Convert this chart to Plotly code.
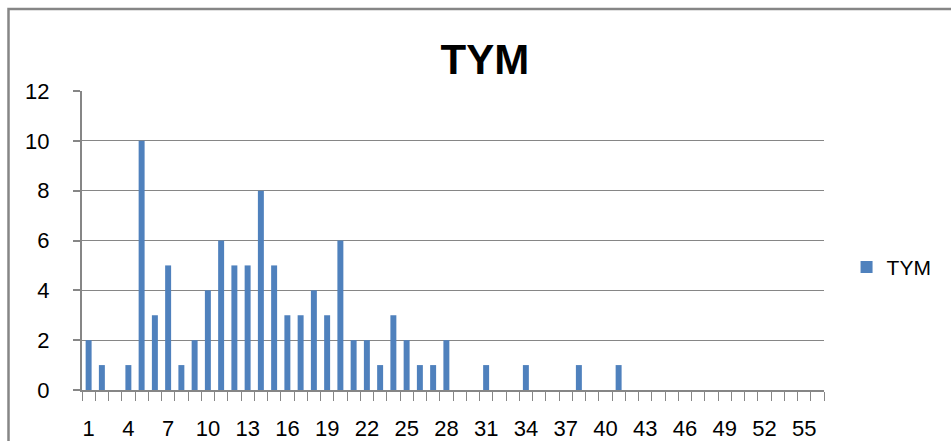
import plotly.graph_objects as go

categories = list(range(1, 57))
values = [2, 1, 0, 1, 10, 3, 5, 1, 2, 4, 6, 5, 5, 8, 5, 3, 3, 4, 3, 6,
          2, 2, 1, 3, 2, 1, 1, 2, 0, 0, 1, 0, 0, 1, 0, 0, 0, 1, 0, 0,
          1, 0, 0, 0, 0, 0, 0, 0, 0, 0, 0, 0, 0, 0, 0, 0]
x_ticks = list(range(1, 57, 3))
y_ticks = list(range(0, 13, 2))

GRAY = "#868686"
BLUE = "#4f81bd"

fig = go.Figure()
fig.add_trace(go.Bar(x=categories, y=values, name="TYM", marker_color=BLUE,
                     marker_line_width=0, showlegend=True))

fig.update_layout(
    width=951, height=441,
    margin=dict(l=82, r=127, t=91, b=51, autoexpand=False),
    paper_bgcolor="white", plot_bgcolor="white",
    bargap=0.55,
    font=dict(family="Liberation Sans, Arial, sans-serif", color="#000000"),
    title=dict(text="<b>TYM</b>", x=0.543, xref="paper", xanchor="center",
               y=1 - 59 / 441, yref="container", yanchor="middle",
               font=dict(family="Liberation Sans, Arial", size=42, color="black")),
    legend=dict(x=1.0304, y=0.41, xanchor="left", yanchor="middle",
                font=dict(size=21), itemwidth=30, bgcolor="rgba(0,0,0,0)"),
    showlegend=True,
)
fig.update_xaxes(
    range=[0.5, 56.5], tickmode="array", tickvals=x_ticks,
    ticktext=[str(t) for t in x_ticks], automargin=False,
    tickfont=dict(size=22), ticks="", ticklabelstandoff=18,
    showline=True, linecolor=GRAY, linewidth=2, showgrid=False, zeroline=False,
    minor=dict(tickmode="linear", tick0=0.5, dtick=1, ticks="outside",
               ticklen=9, tickcolor=GRAY, tickwidth=1, showgrid=False),
)
fig.update_yaxes(
    range=[0, 12], tickmode="array", tickvals=y_ticks, automargin=False,
    tickfont=dict(size=22), ticks="outside", ticklen=7, tickcolor=GRAY, tickwidth=2,
    ticklabelstandoff=19,
    showline=True, linecolor=GRAY, linewidth=2,
    showgrid=True, gridcolor=GRAY, gridwidth=1, zeroline=False,
)
# outer chart border (partially off-canvas, as in the reference)
fig.add_shape(type="rect", xref="paper", yref="paper",
              x0=(8.5 - 82) / 742, x1=1.4, y0=-0.5, y1=(390 - 9) / 299,
              line=dict(color=GRAY, width=2.5), fillcolor="rgba(0,0,0,0)", layer="below")

fig.write_html("out.html", config={"displayModeBar": False},
               post_script="document.body.style.margin='0px';")
